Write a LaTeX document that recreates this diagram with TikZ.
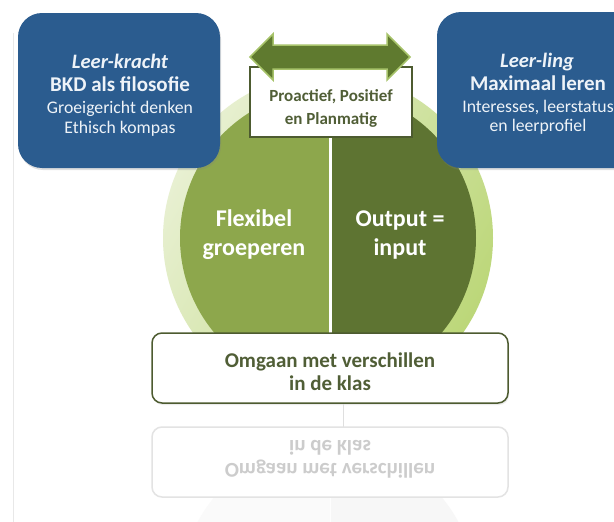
\documentclass[tikz,border=0pt]{standalone}
\usepackage{fontspec}
\setmainfont{Carlito}
\usetikzlibrary{shadows}
\definecolor{boxblue}{HTML}{2B5C8F}
\definecolor{bluetext}{HTML}{EEF3F8}
\definecolor{lightolive}{HTML}{8DA74C}
\definecolor{darkolive}{HTML}{5E7432}
\definecolor{ringpale}{HTML}{E8F0D2}
\definecolor{ringgreen}{HTML}{BCD779}
\definecolor{arrowfill}{HTML}{5F7A2F}
\definecolor{arrowedge}{HTML}{A7C36A}
\definecolor{olivetext}{HTML}{505E36}
\definecolor{oliveedge}{HTML}{4D5B30}
\tikzset{
  bluebox/.style={draw=none, fill=boxblue, rounded corners=24pt, inner sep=0pt,
    drop shadow={opacity=0.25, shadow xshift=1pt, shadow yshift=-2pt}},
  bluehead/.style={text=bluetext, font=\fontsize{20.5}{24}\selectfont\bfseries\itshape, anchor=base, inner sep=0pt},
  bluesub/.style={text=bluetext, font=\fontsize{21}{24}\selectfont\bfseries, anchor=base, inner sep=0pt},
  bluebody/.style={text=bluetext, font=\fontsize{17.7}{21}\selectfont, anchor=base, inner sep=0pt},
  halftext/.style={text=white, font=\fontsize{24}{28}\selectfont\bfseries, anchor=base, inner sep=0pt},
  whitebox/.style={draw=oliveedge, line width=1.5pt, fill=white, inner sep=0pt},
  olivetxt/.style={text=olivetext, font=\fontsize{17}{20}\selectfont\bfseries, anchor=base, inner sep=0pt},
  bigolivetxt/.style={text=olivetext, font=\fontsize{21}{24}\selectfont\bfseries, anchor=base, inner sep=0pt},
  ghostbox/.style={draw=gray!22, line width=1.5pt, fill=white, inner sep=0pt, rounded corners=10pt},
  ghosttxt/.style={text=gray!40, font=\fontsize{21}{24}\selectfont\bfseries, anchor=base, inner sep=0pt},
}
\begin{document}
\begin{tikzpicture}[x=1pt,y=-1pt]
\useasboundingbox (0,0) rectangle (614,522);
\clip (0,0) rectangle (614,522);
\fill[white] (0,0) rectangle (614,522);
% faint slide edge
\draw[gray!18, line width=1pt] (13,33) -- (13,522);

% ring and halves
\shade[left color=ringpale, right color=ringgreen, shading angle=60] (328,238) circle[radius=165pt];
\begin{scope}
  \clip (0,0) rectangle (330,522);
  \fill[lightolive] (328,238) circle[radius=148pt];
\end{scope}
\begin{scope}
  \clip (330,0) rectangle (614,522);
  \fill[darkolive] (328,238) circle[radius=148pt];
\end{scope}
\coordinate (divtop) at (330,137);
\coordinate (divbot) at (330,333);
\draw[white, line width=3pt] (divtop) -- (divbot);

\node[halftext] (flex1) at (254,226) {Flexibel};
\node[halftext] (flex2) at (254,255) {groeperen};
\node[halftext] (out1) at (400,226) {Output =};
\node[halftext] (out2) at (400,255) {input};

% blue boxes
\node[bluebox, minimum width=202pt, minimum height=155pt] (lbox) at (119,90.5) {};
\node[bluehead] (l1) at (120,68) {Leer-kracht};
\node[bluesub] (l2) at (120,91) {BKD als filosofie};
\node[bluebody] (l3) at (120,113) {Groeigericht denken};
\node[bluebody] (l4) at (120,133) {Ethisch kompas};

\node[bluebox, minimum width=206pt, minimum height=156pt] (rbox) at (540,90) {};
\node[bluehead] (r1) at (537,67) {Leer-ling};
\node[bluesub] (r2) at (538,90) {Maximaal leren};
\node[bluebody] (r3) at (538,112) {Interesses, leerstatus};
\node[bluebody] (r4) at (538,131) {en leerprofiel};

% proactief box
\node[whitebox, minimum width=162pt, minimum height=70pt] (pbox) at (331,102) {};
\node[olivetxt] (p1) at (331,101) {Proactief, Positief};
\node[olivetxt] (p2) at (331,124) {en Planmatig};

% double arrow
\draw[fill=arrowfill, draw=arrowedge, line width=1.5pt, line join=miter]
  (250,57) -- (273,34) -- (273,45) -- (387,45) -- (387,34) -- (410,57)
  -- (387,80) -- (387,69) -- (273,69) -- (273,80) -- cycle;

% bottom box
\node[whitebox, rounded corners=10pt, minimum width=356pt, minimum height=70pt,
  drop shadow={opacity=0.15, shadow xshift=1pt, shadow yshift=-2pt}] (obox) at (330,368) {};
\node[bigolivetxt] (o1) at (330,367) {Omgaan met verschillen};
\node[bigolivetxt] (o2) at (330,390) {in de klas};

% reflection
\coordinate (ticktop) at (343,404);
\coordinate (tickbot) at (343,427);
\draw[gray!25, line width=1pt] (ticktop) -- (tickbot);
\begin{scope}[shift={(0,830)}, yscale=-1]
  \begin{scope}
    \clip (152,300) rectangle (330,333);
    \fill[gray!4] (328,238) circle[radius=148pt];
  \end{scope}
  \begin{scope}
    \clip (331,300) rectangle (508,333);
    \fill[gray!6] (328,238) circle[radius=148pt];
  \end{scope}
  \node[ghostbox, minimum width=356pt, minimum height=70pt, transform shape] (gbox) at (330,368) {};
  \node[ghosttxt, transform shape] (g1) at (330,367) {Omgaan met verschillen};
  \node[ghosttxt, transform shape] (g2) at (330,390) {in de klas};
\end{scope}
\end{tikzpicture}
\end{document}
